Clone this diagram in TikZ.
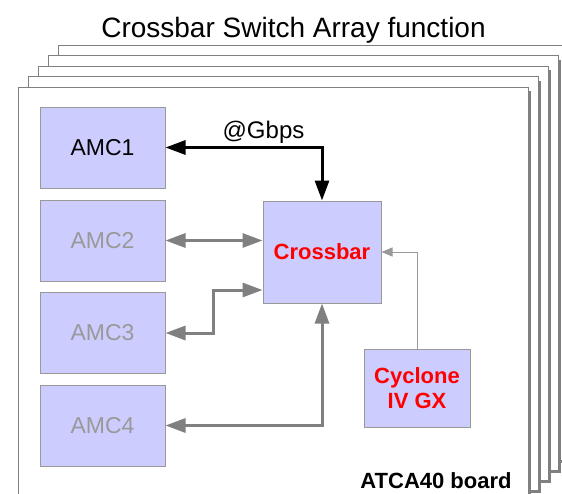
\documentclass[tikz,border=0pt]{standalone}
\usepackage{fontspec}
\setmainfont{Liberation Sans}
\usetikzlibrary{arrows.meta}
\definecolor{boxfill}{HTML}{CCCCFF}
\definecolor{boxline}{HTML}{999999}
\definecolor{linkgray}{HTML}{808080}
\definecolor{fadetext}{HTML}{999999}
\tikzset{
    amcbox/.style={draw=boxline, fill=boxfill, line width=1pt, inner sep=0pt,
        minimum width=125pt, minimum height=81pt, font=\fontsize{23}{26}\selectfont},
    chipbox/.style={amcbox, text=red, align=center, font=\fontsize{22}{25}\selectfont\bfseries},
    fatlink/.style={line width=3pt, draw=linkgray,
        {Triangle[length=20pt,width=14pt]}-{Triangle[length=20pt,width=14pt]}},
    fastlink/.style={fatlink, draw=black},
    thinlink/.style={line width=1pt, draw=boxline, -{Triangle[length=11pt,width=9pt]}}
}

\begin{document}
\begin{tikzpicture}[x=1pt,y=-1pt]
        \useasboundingbox (0,0) rectangle (562,493);
        \clip (0,0) rectangle (562,493);
        \foreach \k in {4,3,2,1,0} {
            \fill[linkgray] ({21+10*\k},{91-10.5*\k}) rectangle ({531+10*\k},{503-10*\k});
            \filldraw[fill=white, draw=linkgray, line width=1pt] ({18+10*\k},{87-10.5*\k}) rectangle ({528+10*\k},{500-10*\k});
        }
        \node[anchor=base, font=\fontsize{28}{32}\selectfont] (title) at (293.5,37.5) {Crossbar Switch Array function};
        \node[amcbox] (amc1) at (102.5,147.5) {AMC1};
        \node[amcbox, text=fadetext] (amc2) at (102.5,240.5) {AMC2};
        \node[amcbox, text=fadetext] (amc3) at (102.5,333) {AMC3};
        \node[amcbox, text=fadetext] (amc4) at (102.5,425.5) {AMC4};
        \node[chipbox, minimum width=118pt, minimum height=102pt] (xbar) at (322,252) {Crossbar};
        \node[chipbox, minimum width=106pt, minimum height=78pt] (cyc) at (417,388) {Cyclone\\IV GX};
        \node[anchor=base, font=\fontsize{24}{28}\selectfont] (gbps) at (263.5,138) {@Gbps};
        \node[anchor=base, font=\fontsize{22}{25}\selectfont\bfseries] (board) at (436,488) {ATCA40 board};
        \draw[fastlink] (amc1.east) -| (xbar.north);
        \draw[fatlink] (amc2.east) -- (amc2.east -| xbar.west);
        \draw[fatlink] (amc3.east) -- ++(48,0) |- ([yshift=-38pt]xbar.west);
        \draw[fatlink] (amc4.east) -| (xbar.south);
        \draw[thinlink] (cyc.north) |- (xbar.east);
\end{tikzpicture}
\end{document}
